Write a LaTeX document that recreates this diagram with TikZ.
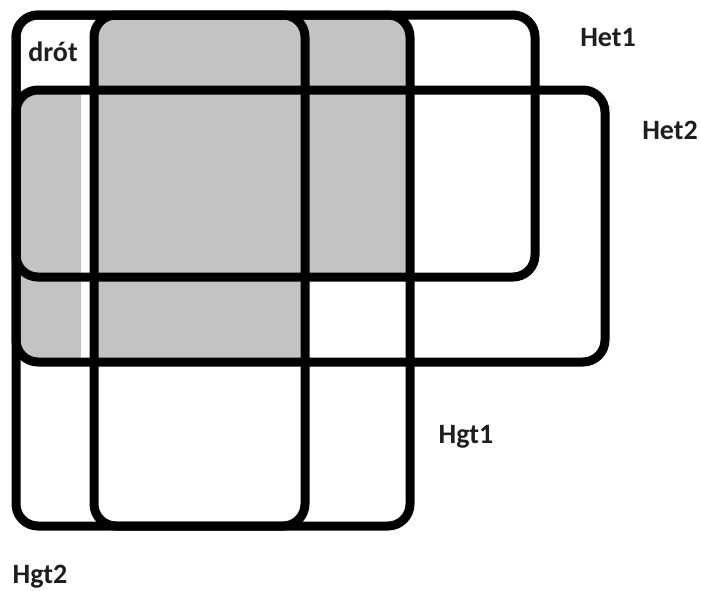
\documentclass[tikz,border=0pt]{standalone}
\usepackage{fontspec}
\setmainfont{Carlito}
\definecolor{grayfill}{RGB}{195,195,195}
\definecolor{txt}{RGB}{30,30,30}
\begin{document}
\begin{tikzpicture}[x=1pt,y=-1pt,
  box/.style={draw=black,line width=9pt,rounded corners=22pt},
  lbl/.style={text=txt,font=\bfseries\fontsize{28}{32}\selectfont,inner sep=0pt}]
\useasboundingbox[fill=white] (0,0) rectangle (701,590);
% gray areas
\begin{scope}
  \clip[rounded corners=22pt] (94,15) rectangle (410,526);
  \fill[grayfill] (94,0) -- (410,0) -- (410,277) -- (305,277) -- (305,362) -- (94,362) -- cycle;
\end{scope}
\begin{scope}
  \clip[rounded corners=22pt] (16,90) rectangle (605,362);
  \fill[grayfill] (16,90) rectangle (81,362);
\end{scope}
% rectangles
\draw[box] (16,15) rectangle (535,277);
\draw[box] (16,90) rectangle (605,362);
\draw[box] (94,15) rectangle (410,526);
\draw[box] (16,15) rectangle (305,526);
% labels
\node[lbl] (drot) at (53,52) {drót};
\node[lbl] (het1) at (608,38) {Het1};
\node[lbl] (het2) at (670,130) {Het2};
\node[lbl] (hgt1) at (466,437) {Hgt1};
\node[lbl] (hgt2) at (40,577) {Hgt2};
\end{tikzpicture}
\end{document}
